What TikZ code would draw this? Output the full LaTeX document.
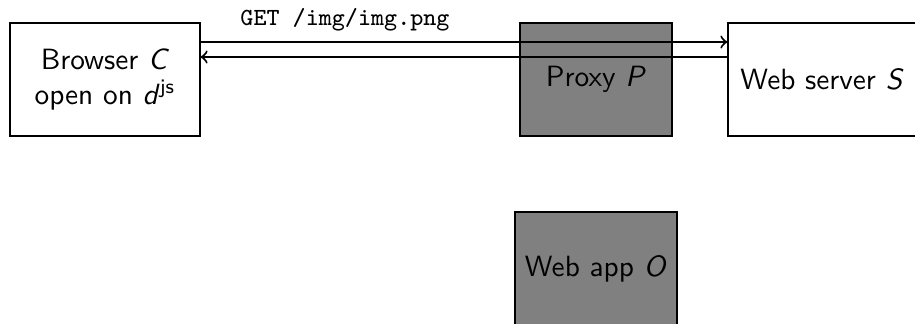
\documentclass[tikz,border=0pt]{standalone}
\usepackage{fontspec}
\usetikzlibrary{calc}
\begin{document}
\begin{tikzpicture}[x=0.3413pt, y=-0.3413pt,
  box/.style={draw, thin, rectangle, inner sep=0pt, font=\sffamily,
    align=center},
  shaded/.style={box, fill=black!50},
  msg/.style={line width=0.7pt, ->},
  lbl/.style={font=\ttfamily\fontsize{8.4}{10}\selectfont, inner sep=0pt}]
  \useasboundingbox (0,0) rectangle (915,323);
  % hosts
  \node[shaded, minimum width=152*0.3413pt, minimum height=113*0.3413pt]
    (proxy) at (596,79.5) {Proxy \textit{P}};
  \node[box, minimum width=190*0.3413pt, minimum height=113*0.3413pt]
    (browser) at (105,79.5) {Browser \textit{C}\\open on \textit{d}\textsuperscript{js}};
  \node[box, minimum width=188*0.3413pt, minimum height=113*0.3413pt]
    (server) at (822,79.5) {Web server \textit{S}};
  \node[shaded, minimum width=162*0.3413pt, minimum height=113*0.3413pt]
    (webapp) at (596,268.5) {Web app \textit{O}};
  % request and response
  \draw[msg] ($(browser.east)+(0,-37.5)$) -- ($(server.west)+(0,-37.5)$);
  \draw[msg] ($(server.west)+(0,-22.5)$) -- ($(browser.east)+(0,-22.5)$);
  \node[lbl] (req) at (345,20) {GET /img/img.png};
\end{tikzpicture}
\end{document}
